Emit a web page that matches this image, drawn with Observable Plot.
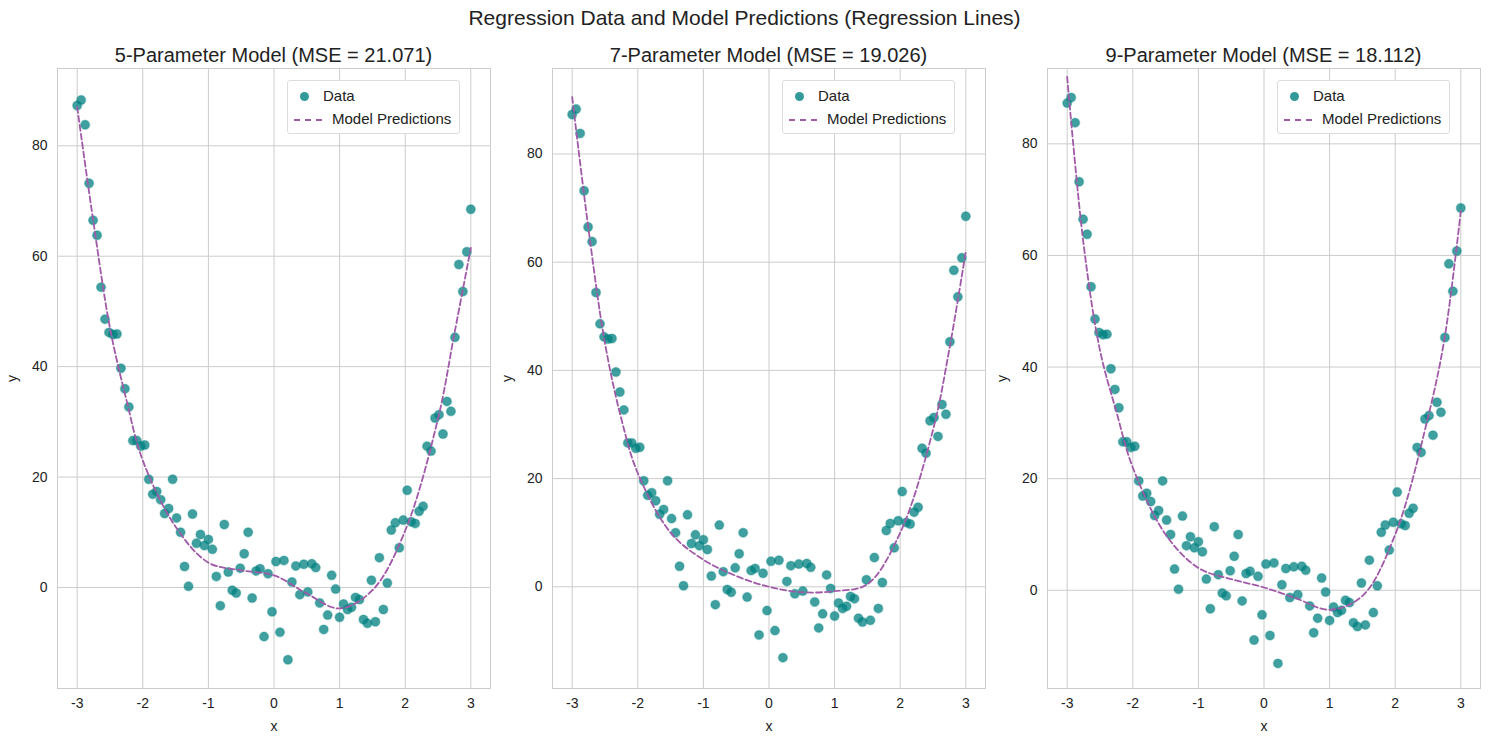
<!DOCTYPE html>
<html>
<head>
<meta charset="utf-8">
<script src="https://cdn.jsdelivr.net/npm/d3@7"></script>
<script src="https://cdn.jsdelivr.net/npm/@observablehq/plot@0.6"></script>
<style>
  body { margin: 0; background: #fff; font-family: "Liberation Sans", Arial, sans-serif; }
  #page { position: relative; width: 1489px; height: 740px; }
  .title { position: absolute; top: 6px; left: 0; width: 1489px; text-align: center; font-size: 21px; color: #222; }
  .ptitle { position: absolute; top: 44px; width: 433px; text-align: center; font-size: 20px; color: #222; }
  .panel { position: absolute; top: 68px; }
  .legend { position: absolute; border: 1px solid #ddd; border-radius: 3px; background: #fff; font-size: 15px; color: #222; padding: 3px 8px 3px 6px; line-height: 23px; }
  .legend span.dot { display: inline-block; width: 9px; height: 9px; border-radius: 50%; background: #008080; opacity: .8; margin: 0 14px 0 6px; }
  .legend span.dash { display: inline-block; width: 28px; border-top: 2px dashed #a05aa8; vertical-align: middle; margin-right: 10px; }
</style>
</head>
<body>
<div id="page">
  <div class="title">Regression Data and Model Predictions (Regression Lines)</div>
</div>
<script>
// data points (x = linspace(-3, 3, 100))
const yData = [87.3, 88.3, 83.8, 73.2, 66.5, 63.8, 54.4, 48.6, 46.2, 45.8,
  45.9, 39.7, 36.0, 32.7, 26.6, 26.6, 25.6, 25.8, 19.6, 16.9,
  17.4, 15.9, 13.4, 14.3, 19.6, 12.6, 10.0, 3.8, 0.2, 13.3,
  8.0, 9.6, 7.6, 8.7, 6.9, 2.0, -3.3, 11.4, 2.8, -0.5,
  -1.0, 3.5, 6.1, 10.0, -1.9, 3.0, 3.4, -8.9, 2.5, -4.4,
  4.7, -8.1, 4.9, -13.1, 1.0, 3.9, -1.3, 4.2, -0.8, 4.3,
  3.6, -2.8, -7.6, -5.0, 2.2, -0.3, -5.4, -3.0, -4.0, -3.6,
  -1.8, -2.2, -5.8, -6.5, 1.3, -6.2, 5.4, -4.0, 0.8, 10.4,
  11.7, 7.2, 12.2, 17.6, 11.9, 11.6, 13.8, 14.7, 25.6, 24.7,
  30.7, 31.3, 27.8, 33.7, 31.9, 45.3, 58.5, 53.6, 60.8, 68.5];
const xData = yData.map((_, i) => -3 + 6 * i / 99);

// model prediction curves, read at these x positions
const xCurve = [-3, -2.75, -2.5, -2.25, -2, -1.5, -1, -0.5, 0, 0.5, 1, 1.5, 2, 2.5, 2.75, 3];
const pred5 = [87, 66, 47, 34, 23, 11, 4.5, 3.1, 2.2, -1.1, -3.8, -0.5, 10.3, 30.6, 46, 61.5];
const pred7 = [90.5, 66, 45, 31, 21, 10, 5, 2, 0, -1, -0.8, 0.5, 10, 29, 44, 62];
const pred9 = [92, 62, 43, 32, 22, 10, 4, 2, 0.5, -1.5, -3.5, -1, 10, 31, 45, 68];

const models = [
  {title: "5-Parameter Model (MSE = 21.071)", pred: pred5, domain: [-18.3, 94]},
  {title: "7-Parameter Model (MSE = 19.026)", pred: pred7, domain: [-18.8, 95.8]},
  {title: "9-Parameter Model (MSE = 18.112)", pred: pred9, domain: [-17.6, 93.5]}
];

const page = document.getElementById("page");
const pts = xData.map((x, i) => ({x, y: yData[i]}));

models.forEach((m, k) => {
  const left = k * 495;
  const curve = xCurve.map((x, i) => ({x, y: m.pred[i]}));
  const chart = Plot.plot({
    width: 496, height: 670,
    marginLeft: 57, marginRight: 6, marginTop: 0, marginBottom: 50,
    style: {fontFamily: "Liberation Sans, Arial, sans-serif", fontSize: "14px", color: "#222"},
    x: {domain: [-3.3, 3.3], ticks: [-3, -2, -1, 0, 1, 2, 3], tickFormat: d => String(d),
        tickSize: 0, tickPadding: 10, label: "x", labelAnchor: "center", labelArrow: "none", labelOffset: 42},
    y: {domain: m.domain, ticks: [0, 20, 40, 60, 80], tickFormat: d => String(d),
        tickSize: 0, tickPadding: 10, label: "y", labelAnchor: "center", labelArrow: "none", labelOffset: 50},
    marks: [
      Plot.gridX({ticks: [-3, -2, -1, 0, 1, 2, 3], stroke: "#cccccc", strokeOpacity: 1}),
      Plot.gridY({ticks: [0, 20, 40, 60, 80], stroke: "#cccccc", strokeOpacity: 1}),
      Plot.frame({stroke: "#cccccc"}),
      Plot.dot(pts, {x: "x", y: "y", r: 4.5, fill: "#008080", fillOpacity: 0.75, stroke: "#008080", strokeOpacity: 0.3}),
      Plot.line(curve, {x: "x", y: "y", curve: "catmull-rom", stroke: "#a05aa8", strokeWidth: 1.8, strokeDasharray: "6,3"})
    ]
  });
  chart.classList.add("panel");
  chart.style.left = left + "px";
  page.appendChild(chart);

  const t = document.createElement("div");
  t.className = "ptitle";
  t.style.left = (left + 57) + "px";
  t.textContent = m.title;
  page.appendChild(t);

  const lg = document.createElement("div");
  lg.className = "legend";
  lg.style.left = (left + 287) + "px";
  lg.style.top = "80px";
  lg.innerHTML = '<div><span class="dot"></span>Data</div><div><span class="dash"></span>Model Predictions</div>';
  page.appendChild(lg);
});
</script>
</body>
</html>
